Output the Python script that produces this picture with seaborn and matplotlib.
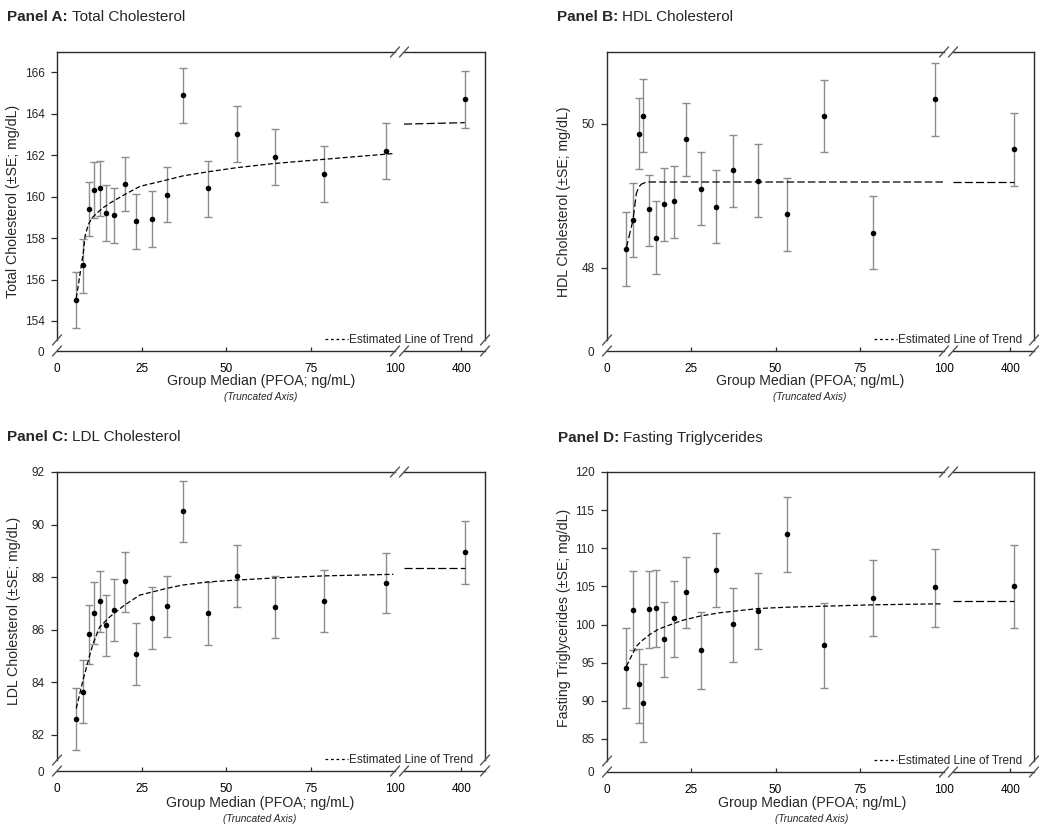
import matplotlib
matplotlib.use("Agg")
import matplotlib.pyplot as plt
from matplotlib.lines import Line2D
import seaborn as sns
import numpy as np

# group medians of serum PFOA (ng/mL); last group sits past the axis break
x_median = [5.7, 7.8, 9.4, 10.8, 12.6, 14.4, 16.9, 20.0, 23.5, 28.0, 32.4, 37.3, 44.8, 53.4, 64.5, 79.0, 97.3, 401]

# Panel A: total cholesterol, mean and +/- SE bounds
tc_mean = [155.0, 156.7, 159.4, 160.3, 160.4, 159.2, 159.1, 160.6, 158.8, 158.9, 160.1, 164.9, 160.4, 163.0, 161.9, 161.1, 162.2, 164.7]
tc_lo = [153.65, 155.35, 158.10, 158.95, 159.08, 157.87, 157.74, 159.29, 157.45, 157.55, 158.76, 163.57, 159.04, 161.65, 160.55, 159.73, 160.86, 163.33]
tc_hi = [156.38, 157.95, 160.71, 161.65, 161.73, 160.55, 160.44, 161.92, 160.15, 160.27, 161.45, 166.22, 161.74, 164.36, 163.27, 162.45, 163.54, 166.05]

# Panel B: HDL
hdl_mean = [48.26, 48.67, 49.86, 50.11, 48.81, 48.41, 48.88, 48.92, 49.78, 49.10, 48.84, 49.35, 49.21, 48.75, 50.10, 48.49, 50.34, 49.65]
hdl_lo = [47.75, 48.15, 49.37, 49.60, 48.30, 47.91, 48.37, 48.41, 49.27, 48.59, 48.34, 48.84, 48.70, 48.24, 49.60, 47.99, 49.83, 49.14]
hdl_hi = [48.77, 49.17, 50.35, 50.61, 49.29, 48.92, 49.38, 49.41, 50.29, 49.60, 49.35, 49.84, 49.72, 49.25, 50.60, 49.00, 50.84, 50.15]

# Panel C: LDL
ldl_mean = [82.62, 83.65, 85.85, 86.65, 87.09, 86.20, 86.77, 87.84, 85.09, 86.46, 86.89, 90.51, 86.63, 88.06, 86.85, 87.10, 87.77, 88.95]
ldl_lo = [81.42, 82.46, 84.68, 85.47, 85.91, 85.01, 85.59, 86.67, 83.90, 85.28, 85.71, 89.34, 85.44, 86.87, 85.67, 85.92, 86.62, 87.76]
ldl_hi = [83.80, 84.84, 86.96, 87.80, 88.22, 87.34, 87.92, 88.97, 86.25, 87.63, 88.05, 91.66, 87.80, 89.23, 88.03, 88.27, 88.92, 90.13]

# Panel D: fasting triglycerides
tg_mean = [94.32, 101.85, 92.22, 89.77, 102.02, 102.15, 98.13, 100.84, 104.25, 96.68, 107.14, 100.01, 101.76, 111.82, 97.30, 103.51, 104.86, 105.04]
tg_lo = [89.07, 96.60, 87.10, 84.65, 96.90, 97.03, 93.14, 95.81, 99.53, 91.61, 102.24, 95.11, 96.73, 106.92, 91.74, 98.48, 99.70, 99.53]
tg_hi = [99.53, 107.05, 96.86, 94.85, 107.05, 107.14, 102.94, 105.74, 108.89, 101.63, 111.95, 104.82, 106.70, 116.72, 102.81, 108.50, 109.89, 110.42]

# estimated line of trend (left of break / right of break)
trend_right_x = [383, 401]
trend_a_x = [5.7, 6.8, 7.9, 8.3, 9.0, 9.4, 10.5, 11.8, 13.5, 15.8, 20.0, 24.6, 32.4, 37.2, 44.7, 53.3, 64.3, 78.9, 99.5]
trend_a_y = [155.1, 156.25, 157.45, 158.1, 158.5, 158.7, 159.0, 159.2, 159.45, 159.7, 160.1, 160.5, 160.8, 161.0, 161.2, 161.4, 161.6, 161.8, 162.08]
trend_a_right = [163.5, 163.57]
trend_b_x = [5.7, 7.7, 8.7, 9.4, 10.2, 11.7, 100.0]
trend_b_y = [48.27, 48.66, 49.03, 49.12, 49.16, 49.19, 49.19]
trend_b_right = [49.19, 49.19]
trend_c_x = [5.7, 7.7, 9.7, 10.7, 12.6, 15.6, 20.0, 24.5, 32.3, 37.1, 44.6, 53.2, 64.3, 78.9, 99.5]
trend_c_y = [83.01, 84.09, 85.04, 85.48, 86.1, 86.49, 86.94, 87.32, 87.57, 87.70, 87.82, 87.89, 87.97, 88.05, 88.11]
trend_c_right = [88.35, 88.35]
trend_d_x = [5.76, 7.25, 8.73, 10.2, 12.7, 15.1, 17.6, 22.6, 27.5, 33.5, 44.9, 53.6, 64.6, 79.1, 99.3]
trend_d_y = [94.54, 95.85, 97.16, 97.82, 98.70, 99.35, 99.79, 100.58, 101.10, 101.55, 102.1, 102.28, 102.41, 102.59, 102.72]
trend_d_right = [103.03, 103.03]

x_ticks_left = [0, 25, 50, 75, 100]
x_ticks_right = [400]

sns.set_theme(style="ticks")
plt.rcParams['font.family'] = ['Liberation Sans', 'DejaVu Sans']

W, H = 1050, 827
SPINE = "#2b2b2b"
ERR = "#8c8c8c"
BREAK = 11  # pixels for the y-axis break


def rect(x0, y0, x1, y1):
    # pixel box (top-left origin) -> figure fraction
    return [x0 / W, 1 - y1 / H, (x1 - x0) / W, (y1 - y0) / H]


def slash(fig, xc, yc):
    fig.add_artist(Line2D([(xc - 4.5) / W, (xc + 4.5) / W], [1 - (yc + 5) / H, 1 - (yc - 5) / H],
                          transform=fig.transFigure, color="#555555", lw=1.0))


def draw_panel(fig, box, ylim, yticks, mean, lo, hi, tx, ty, ty_right, ylabel, title,
               ylab_xy, xlab_xy, left_dash=(4, 2)):
    x0, xb0, xb1, x1, top, bot = box
    ax = fig.add_axes(rect(x0, top, xb0, bot))
    axr = fig.add_axes(rect(xb1, top, x1, bot), sharey=ax)
    ax.set_xlim(0, 100)
    axr.set_xlim(383, 407)
    ax.set_ylim(*ylim)

    x = np.array(x_median)
    m = np.array(mean)
    err = np.vstack([m - np.array(lo), np.array(hi) - m])
    for a, sel in ((ax, x < 200), (axr, x > 200)):
        a.errorbar(x[sel], m[sel], yerr=err[:, sel], fmt='none', ecolor=ERR,
                   elinewidth=1.0, capsize=2.6, capthick=1.0, zorder=2)
        sns.scatterplot(x=x[sel], y=m[sel], ax=a, color='black', s=16,
                        linewidth=0, zorder=4)

    sns.lineplot(x=tx, y=ty, ax=ax, color='black', linewidth=0.9, sort=False,
                 estimator=None, zorder=3)
    ax.lines[-1].set_linestyle((0, left_dash))
    sns.lineplot(x=trend_right_x, y=ty_right, ax=axr, color='black', linewidth=0.9,
                 sort=False, estimator=None, zorder=3)
    axr.lines[-1].set_linestyle((0, (6.5, 2.5)))

    for a in (ax, axr):
        a.set_facecolor('white')
        for s in a.spines.values():
            s.set_color(SPINE)
            s.set_linewidth(1.0)
        a.tick_params(axis='x', direction='in', length=3, width=0.9, color=SPINE,
                      pad=8.5, labelsize=8.5, colors='black')
        a.set_xlabel('')
        a.set_ylabel('')
    ax.spines['right'].set_visible(False)
    axr.spines['left'].set_visible(False)
    axr.tick_params(axis='y', left=False, labelleft=False)

    ylo, yhi = ylim
    cut = ylo + (yhi - ylo) * BREAK / (bot - top)
    ax.spines['left'].set_bounds(cut, yhi)
    axr.spines['right'].set_bounds(cut, yhi)

    ax.set_xticks(x_ticks_left)
    axr.set_xticks(x_ticks_right)
    ticks_x = ax.xaxis.get_major_ticks()
    ticks_x[0].tick1line.set_visible(False)
    ticks_x[-1].tick1line.set_visible(False)

    ax.set_yticks([ylo] + yticks)
    ax.set_yticklabels(['0'] + [str(t) for t in yticks])
    ax.tick_params(axis='y', direction='out', length=4, width=0.9, color=SPINE,
                   pad=5, labelsize=8.5)
    ax.yaxis.get_major_ticks()[0].tick1line.set_visible(False)

    # break marks
    for xc in (x0, x1):
        slash(fig, xc, bot - BREAK)
        slash(fig, xc, bot)
    for yc in (top, bot):
        slash(fig, xb0, yc)
        slash(fig, xb1, yc)

    handle = Line2D([], [], color='black', linewidth=0.9, linestyle=(0, (2.2, 2.2)))
    axr.legend([handle], ['Estimated Line of Trend'], loc='center right',
               bbox_to_anchor=(1 - 12 / (x1 - xb1), BREAK / (bot - top)),
               frameon=False, fontsize=8.5, handlelength=1.95, handletextpad=0.1,
               borderpad=0, borderaxespad=0)

    fig.text(ylab_xy[0] / W, 1 - ylab_xy[1] / H, ylabel, rotation=90,
             ha='center', va='center', fontsize=10.2)
    fig.text(xlab_xy[0] / W, 1 - xlab_xy[1] / H, 'Group Median (PFOA; ng/mL)',
             ha='center', va='center', fontsize=10.2)
    fig.text(xlab_xy[0] / W, 1 - (xlab_xy[1] + 16) / H, '(Truncated Axis)',
             ha='center', va='center', fontsize=7.3, style='italic')

    tx0, tbase, bold, rest = title
    t = fig.text(tx0 / W, 1 - tbase / H, bold, fontsize=11, fontweight='bold',
                 ha='left', va='baseline')
    ax.annotate(rest, xy=(1, 0), xycoords=t, xytext=(3.1, 0), textcoords='offset points',
                ha='left', va='bottom', fontsize=11, annotation_clip=False)


fig = plt.figure(figsize=(W / 100, H / 100), dpi=100)

draw_panel(fig, (57, 395, 404, 485, 52, 351), (152.55, 166.98), [154, 156, 158, 160, 162, 164, 166],
           tc_mean, tc_lo, tc_hi, trend_a_x, trend_a_y, trend_a_right,
           'Total Cholesterol (\u00b1SE; mg/dL)', (6.7, 20.7, 'Panel A:', 'Total Cholesterol'),
           (13, 201.7), (261, 381))
draw_panel(fig, (607, 944, 953, 1034, 52, 351), (46.85, 50.99), [48, 50],
           hdl_mean, hdl_lo, hdl_hi, trend_b_x, trend_b_y, trend_b_right,
           'HDL Cholesterol (\u00b1SE; mg/dL)', (556.7, 20.7, 'Panel B:', 'HDL Cholesterol'),
           (564, 202.2), (810, 380.7), left_dash=(6, 2.5))
draw_panel(fig, (57, 395, 404, 485, 472, 771), (80.63, 92.0), [82, 84, 86, 88, 90, 92],
           ldl_mean, ldl_lo, ldl_hi, trend_c_x, trend_c_y, trend_c_right,
           'LDL Cholesterol (\u00b1SE; mg/dL)', (6.7, 440.7, 'Panel C:', 'LDL Cholesterol'),
           (14, 610.7), (260, 802.7))
draw_panel(fig, (607, 944, 953, 1034, 472, 772), (80.67, 120.0), [85, 90, 95, 100, 105, 110, 115, 120],
           tg_mean, tg_lo, tg_hi, trend_d_x, trend_d_y, trend_d_right,
           'Fasting Triglycerides (\u00b1SE; mg/dL)', (557.7, 441.7, 'Panel D:', 'Fasting Triglycerides'),
           (564, 618.3), (812, 803.3))

fig.savefig("out.png", dpi=100, facecolor='white')
